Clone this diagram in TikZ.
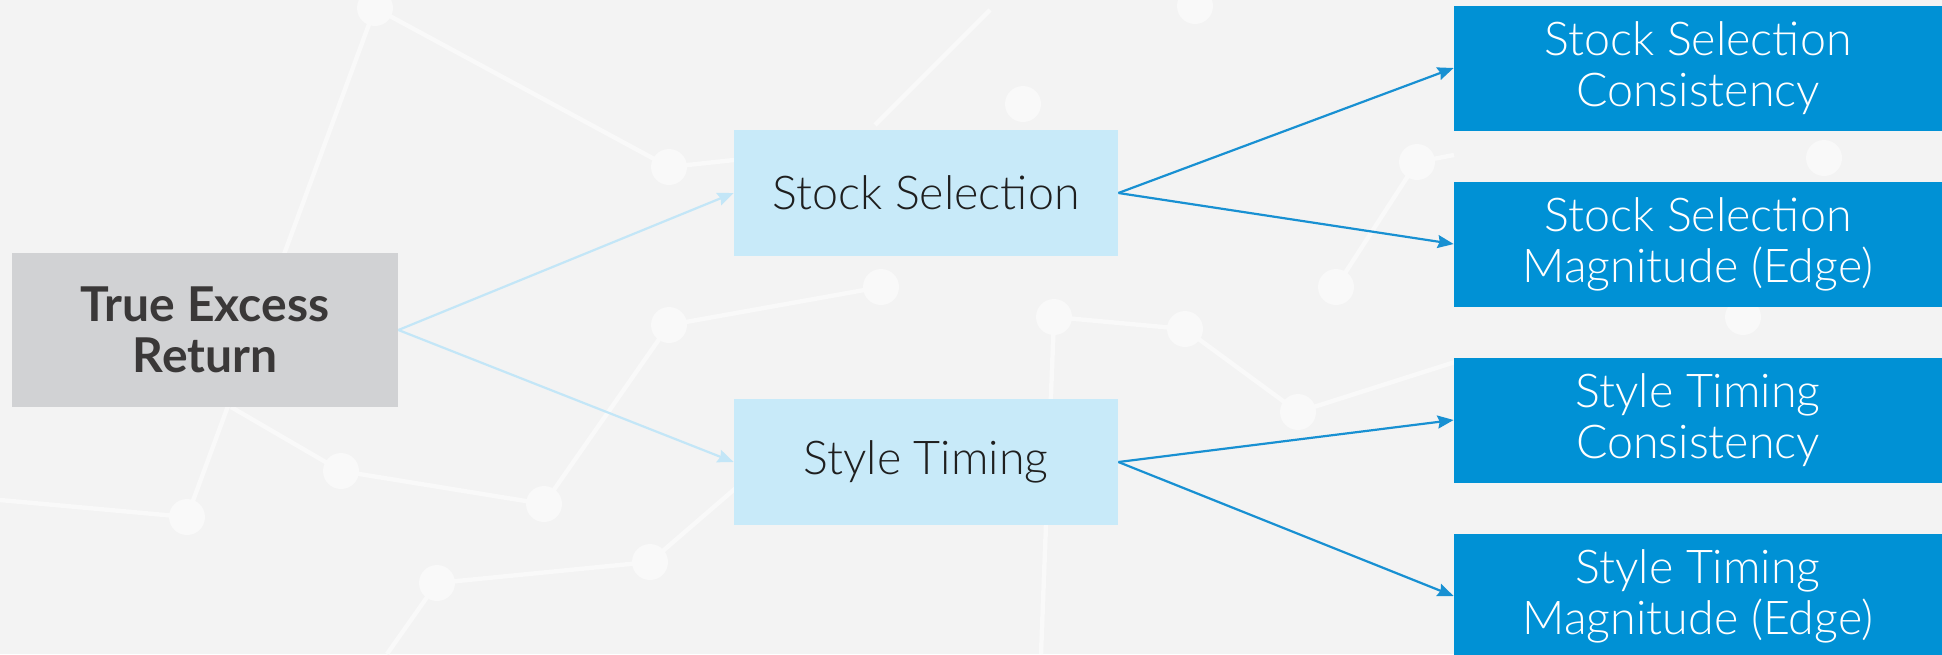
\documentclass[tikz,border=0pt]{standalone}
\usepackage{fontspec}
\setmainfont{Lato}[UprightFont={* Light},BoldFont={* Bold}]
\definecolor{bgpaper}{HTML}{F3F3F3}
\definecolor{netwhite}{HTML}{F9F9F9}
\definecolor{rootgray}{HTML}{D1D2D4}
\definecolor{midblue}{HTML}{C8EAF9}
\definecolor{leafblue}{HTML}{0091D5}
\definecolor{arrlight}{HTML}{C3E6F7}
\definecolor{arrdark}{HTML}{1890D2}
\definecolor{textdark}{HTML}{3A3838}
\usetikzlibrary{arrows.meta,positioning}

\begin{document}
\begin{tikzpicture}[x=0.5pt, y=-0.5pt,
        rootbox/.style={rectangle, fill=rootgray, minimum width=193pt, minimum height=77pt,
                        align=center, text=textdark, font=\fontsize{24}{25.5}\selectfont\bfseries},
        midbox/.style={rectangle, fill=midblue, minimum width=192pt, minimum height=63pt,
                       align=center, text=black!88, font=\fontsize{23.3}{25.5}\selectfont},
        leafbox/.style={rectangle, fill=leafblue, minimum width=244pt, minimum height=62.5pt,
                        align=center, text=white, font=\fontsize{23.3}{25.5}\selectfont},
        arr/.style={-{Stealth[length=8pt,width=6.5pt,inset=1pt]}, line width=1.1pt, arrdark},
        arrpale/.style={arr, arrlight},
        netline/.style={netwhite, line width=2.2pt},
        netdot/.style={fill=netwhite}
      ]
        \useasboundingbox (0,0) rectangle (1942,654);
        \fill[bgpaper] (0,0) rectangle (1942,654);

        % faint network in the background
        \draw[netline] (375,8) -- (187,517) (375,8) -- (669,167) -- (734,160);
        \draw[netline] (881,287) -- (669,325) -- (544,504) -- (341,471) -- (231,407);
        \draw[netline] (0,500) -- (187,517) (437,583) -- (650,562) -- (737,487) (437,583) -- (387,654);
        \draw[netline] (875,125) -- (990,10) (1054,317) -- (1185,329) -- (1298,412) -- (1455,362);
        \draw[netline] (1054,317) -- (1041,654) (1336,287) -- (1417,162) -- (1454,155);
        \foreach \p in {(669,167),(669,325),(881,287),(544,504),(341,471),(187,517),(437,583),
                        (650,562),(1195,6),(1023,104),(1054,317),(1185,329),(1298,412),
                        (1417,162),(1336,287),(1824,158),(1743,317),(375,8)}
          \fill[netdot] \p circle (18);

        \node[rootbox] (root) at (205, 330) {True Excess\\Return};

        \node[midbox] (stock) at (926, 193) {Stock Selection};
        \node[midbox] (style) at (926, 462) {Style Timing};

        \node[leafbox] (stockcons) at (1698, 68)  {Stock Selection\\Consistency};
        \node[leafbox] (stockmag)  at (1698, 244) {Stock Selection\\Magnitude (Edge)};
        \node[leafbox] (stylecons) at (1698, 420) {Style Timing\\Consistency};
        \node[leafbox] (stylemag)  at (1698, 596) {Style Timing\\Magnitude (Edge)};

        \draw[arrpale] (root.east) -- (stock.west);
        \draw[arrpale] (root.east) -- (style.west);
        \draw[arr] (stock.east) -- (stockcons.west);
        \draw[arr] (stock.east) -- (stockmag.west);
        \draw[arr] (style.east) -- (stylecons.west);
        \draw[arr] (style.east) -- (stylemag.west);
      \end{tikzpicture}
\end{document}
